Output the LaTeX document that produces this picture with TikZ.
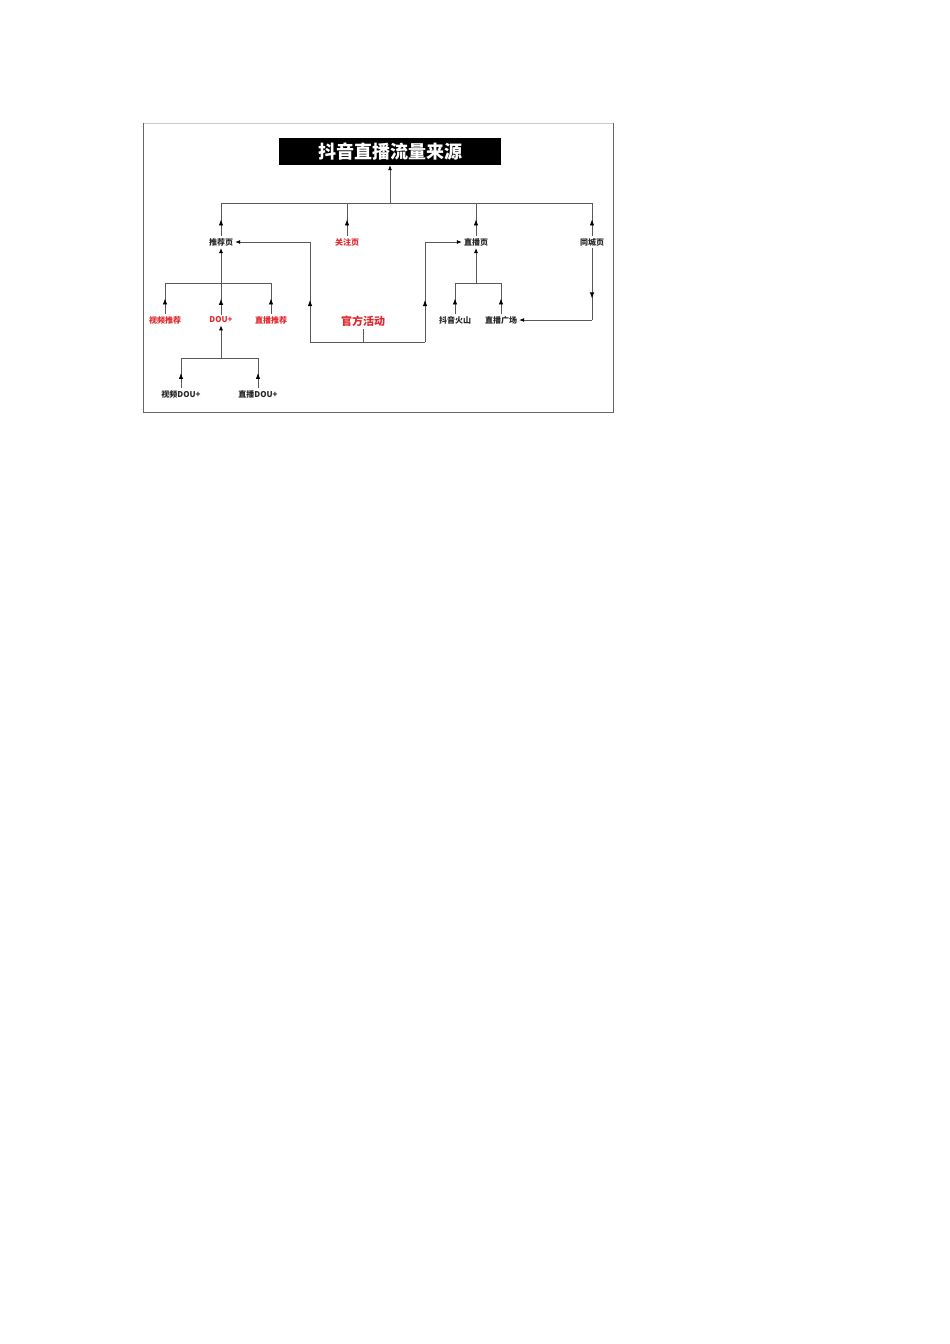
\documentclass[tikz,border=0pt]{standalone}
\usepackage{fontspec}
\setmainfont{Noto Sans CJK SC}
\usetikzlibrary{arrows.meta,decorations.markings}

\definecolor{srcred}{HTML}{E0282C}
\tikzset{
  wire/.style={draw=black!65, line width=0.8pt},
  lbl/.style={font=\fontsize{8}{9}\selectfont\bfseries, text=black!85, inner sep=2pt},
  redlbl/.style={lbl, text=srcred},
  tip/.style={-{Latex[length=5pt,width=4pt,black]}},
  midtip/.style={postaction={decorate}, decoration={markings,
      mark=at position #1 with {\arrow{Latex[length=6pt,width=4.5pt,black]}}}},
  midtip/.default=0.5
}

\begin{document}
\begin{tikzpicture}[x=1pt, y=-1pt]
  \useasboundingbox (0,0) rectangle (950,1344);
  \fill[white] (0,0) rectangle (950,1344);
  % frame
  \draw[black!20, line width=0.6pt] (143,123) -- (613,123);
  \draw[black!60, line width=0.8pt] (613,123) -- (613,412) -- (143,412) -- (143,123);

  % title
  \node[fill=black, minimum width=222pt, minimum height=27pt, text=white,
        font=\fontsize{18}{20}\selectfont\bfseries] (title) at (390,151.5) {抖音直播流量来源};

  % second row
  \node[lbl] (tj) at (221,242) {推荐页};
  \node[redlbl] (gz) at (347,242) {关注页};
  \node[lbl] (zb) at (476,242) {直播页};
  \node[lbl] (tc) at (592,242) {同城页};

  % third row
  \node[redlbl] (sp) at (165,320) {视频推荐};
  \node[redlbl] (dou) at (221,320) {DOU+};
  \node[redlbl] (zbtj) at (271,320) {直播推荐};
  \node[redlbl, font=\fontsize{11}{12}\selectfont\bfseries] (gf) at (363,321) {官方活动};
  \node[lbl] (dy) at (455,320) {抖音火山};
  \node[lbl] (gc) at (501,320) {直播广场};

  % fourth row
  \node[lbl] (spd) at (181,394) {视频DOU+};
  \node[lbl] (zbd) at (258,394) {直播DOU+};

  \coordinate (top) at (390,203);
  \coordinate (tjbus) at (221,283);
  \coordinate (zbbus) at (476,283);
  \coordinate (doubus) at (221,358);
  \coordinate (gfbus) at (363,342);

  % top level
  \draw[wire, tip] (top) -- (title.south);
  \draw[wire] (tj.north |- top) -- (tc.north |- top);
  \foreach \n in {tj, gz, zb, tc}
    \draw[wire, midtip] (\n.north) -- (\n.north |- top);

  % under 推荐页
  \draw[wire, tip] (tjbus) -- (tj.south);
  \draw[wire] (sp.north |- tjbus) -- (zbtj.north |- tjbus);
  \foreach \n in {sp, dou, zbtj}
    \draw[wire, midtip] (\n.north) -- (\n.north |- tjbus);

  % under DOU+
  \draw[wire, tip] (doubus) -- (dou.south);
  \draw[wire] (spd.north |- doubus) -- (zbd.north |- doubus);
  \foreach \n in {spd, zbd}
    \draw[wire, midtip] (\n.north) -- (\n.north |- doubus);

  % under 直播页
  \draw[wire, tip] (zbbus) -- (zb.south);
  \draw[wire] (dy.north |- zbbus) -- (gc.north |- zbbus);
  \foreach \n in {dy, gc}
    \draw[wire, midtip] (\n.north) -- (\n.north |- zbbus);

  % 官方活动
  \draw[wire] (gf.south) -- (gfbus);
  \draw[wire] (310,342) -- (425,342);
  \draw[wire, midtip=0.42] (310,342) -- (310,242);
  \draw[wire, tip] (310,242) -- (tj.east);
  \draw[wire, midtip=0.42] (425,342) -- (425,242);
  \draw[wire, tip] (425,242) -- (zb.west);

  % 同城页
  \draw[wire, midtip=0.7] (tc.south) -- (tc.south |- gc);
  \draw[wire, tip] (tc.south |- gc) -- (gc.east);
\end{tikzpicture}
\end{document}
